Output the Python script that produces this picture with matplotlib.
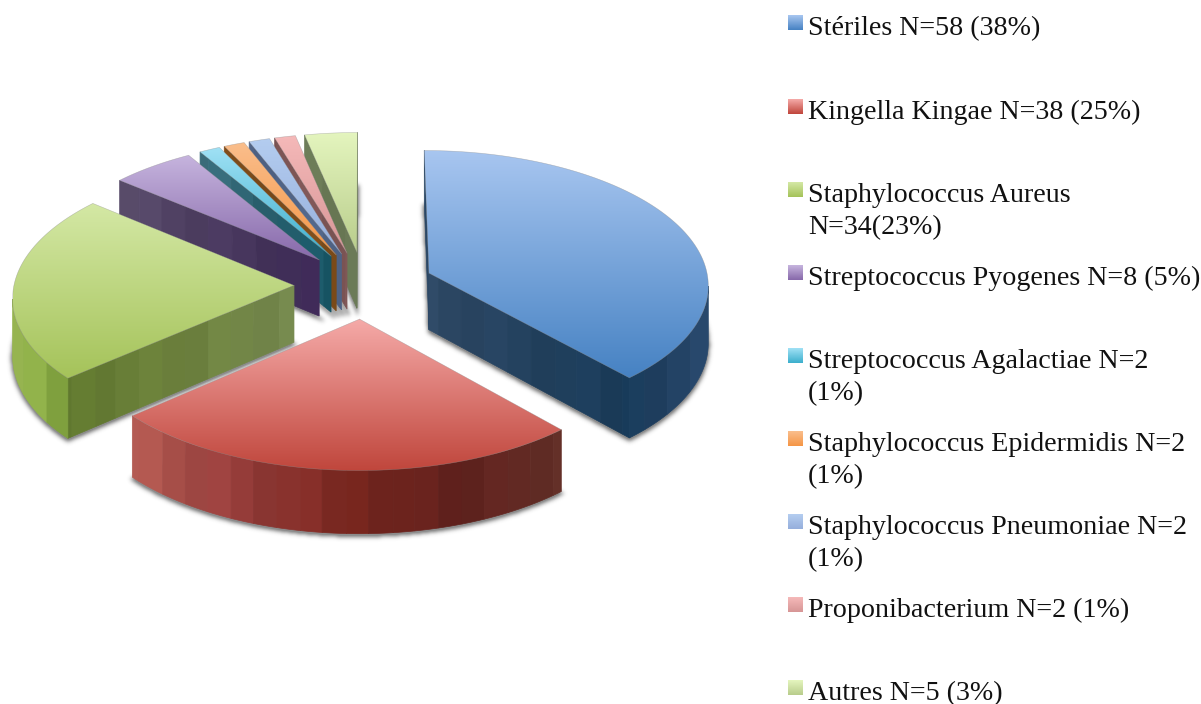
import numpy as np
import matplotlib
matplotlib.use('Agg')
import matplotlib.pyplot as plt
from matplotlib.path import Path
from matplotlib.patches import Polygon

labels = [
    'Stériles N=58 (38%)',
    'Kingella Kingae N=38 (25%)',
    'Staphylococcus Aureus\nN=34(23%)',
    'Streptococcus Pyogenes N=8 (5%)',
    'Streptococcus Agalactiae N=2\n(1%)',
    'Staphylococcus Epidermidis N=2\n(1%)',
    'Staphylococcus Pneumoniae N=2\n(1%)',
    'Proponibacterium N=2 (1%)',
    'Autres N=5 (3%)',
]
counts = [58, 38, 34, 8, 2, 2, 2, 2, 5]

# top surface gradient, light end then dark end
top_light = ['#a8c6f0', '#f5aaa8', '#d4e8a5', '#c6b4de', '#a0e1f5', '#fabe8c', '#b4cdf0', '#f5b9b9', '#e4f5be']
top_dark = ['#4682c3', '#c0463c', '#a5c35a', '#8769aa', '#3cafcd', '#f59646', '#96afdc', '#d79696', '#b9cd8c']

# side walls, colours run from left to right on screen
wall_colors = [
    ['#2e4864', '#183a58'],
    ['#b25a52', '#783026'],
    ['#627a30', '#6c803c', '#788c50'],
    ['#584b69', '#3c2855'],
    ['#3c6e7d', '#165564'],
    ['#7d4b19', '#7d4b19'],
    ['#506487', '#506487'],
    ['#7d5555', '#7d5555'],
    ['#697855', '#697855'],
]
arc_colors = [
    ['#1a3c5c', '#284669'],
    ['#b25a52', '#963c3a', '#78261e', '#5f201c', '#643028'],
    ['#96b450', '#7da03c'],
    ['#584b69', '#3c2855'],
    ['#3c6e7d', '#165564'],
    ['#7d4b19', '#7d4b19'],
    ['#506487', '#506487'],
    ['#7d5555', '#7d5555'],
    ['#697855', '#697855'],
]
band_tint = [0.0, 0.04, -0.02, 0.02, -0.03, 0.01, 0.04, -0.01, -0.03, 0.03, 0.0, -0.04]

cx, cy = 364, 285
radius = 280
squash = 134
perspective = 0.078
explode = 0.25
depth = 57
band_w = 23

W, H = 1201, 704


def project(x, y):
    s = 1 / (1 + perspective * y)
    return cx + radius * x * s, cy - squash * y * s, depth * s


def hex_rgb(c):
    return np.array(matplotlib.colors.to_rgb(c))


def band_color(stops, band, xmin, xmax):
    t = np.clip(((band + 0.5) * band_w - xmin) / max(xmax - xmin, 1), 0, 1)
    rgb = np.array([hex_rgb(c) for c in stops])
    pos = np.linspace(0, 1, len(stops))
    col = np.array([np.interp(t, pos, rgb[:, k]) for k in range(3)])
    return np.clip(col * (1 + band_tint[band % len(band_tint)]), 0, 1)


z_count = [10]


def z_next():
    z_count[0] += 0.01
    return z_count[0]


def draw_wall(ax, pts, stops):
    # pts is a run of (x, y_top, wall_height) along the wall, split into flat vertical bands
    xs = [p[0] for p in pts]
    xmin, xmax = min(xs), max(xs)
    bands = [int(x // band_w) for x in xs]
    start = 0
    for j in range(1, len(pts) + 1):
        if j == len(pts) or bands[j] != bands[start]:
            run = pts[start:min(j + 1, len(pts))]
            c = band_color(stops, bands[start], xmin, xmax)
            poly = [(p[0], p[1]) for p in run] + [(p[0], p[1] + p[2]) for p in run[::-1]]
            ax.add_patch(Polygon(poly, closed=True, facecolor=c, edgecolor=c, lw=0.5, zorder=z_next()))
            start = j


fig = plt.figure(figsize=(W / 100, H / 100), dpi=100)
ax = fig.add_axes([0, 0, 1, 1])

fracs = np.array(counts) / sum(counts)
edges = np.concatenate([[0], np.cumsum(fracs)]) * 2 * np.pi
mids = (edges[:-1] + edges[1:]) / 2

# wedge geometry for every slice
slices = []
for i in range(len(counts)):
    ox, oy = explode * np.sin(mids[i]), explode * np.cos(mids[i])
    ang = np.linspace(edges[i], edges[i + 1], max(int(np.degrees(edges[i + 1] - edges[i])) * 2, 6))
    rim = [project(ox + np.sin(a), oy + np.cos(a)) for a in ang]
    apex = project(ox, oy)
    slices.append(dict(i=i, ox=ox, oy=oy, ang=ang, rim=rim, apex=apex))

# soft shadow taken from the floor of every slice
yy, xx = np.mgrid[0:H, 0:W]
grid = np.column_stack([xx.ravel() + 0.5, yy.ravel() + 0.5])
mask = np.zeros((H, W))
for sl in slices:
    floor = [(sl['apex'][0], sl['apex'][1] + sl['apex'][2])]
    floor += [(p[0], p[1] + p[2]) for p in sl['rim']]
    mask = np.maximum(mask, Path(floor).contains_points(grid, radius=2.5).reshape(H, W).astype(float))
kernel = np.exp(-0.5 * (np.arange(-7, 8) / 2.2) ** 2)
kernel /= kernel.sum()
blur = np.apply_along_axis(lambda r: np.convolve(r, kernel, mode='same'), 0, mask)
blur = np.apply_along_axis(lambda r: np.convolve(r, kernel, mode='same'), 1, blur)
blur = np.roll(blur, 2, axis=0)
shadow = np.zeros((H, W, 4))
shadow[..., :3] = 0.25
shadow[..., 3] = np.clip(blur * 1.3, 0, 1) * 0.6
ax.imshow(shadow, extent=(0, W, H, 0), origin='upper', aspect='auto', zorder=1)

# far slices first so the near ones paint over them
for sl in sorted(slices, key=lambda s: -np.cos(mids[s['i']])):
    i = sl['i']
    apex, rim = sl['apex'], sl['rim']

    # radial walls, only the ones turned towards the viewer
    for a, outer, towards in ((edges[i], rim[0], -1), (edges[i + 1], rim[-1], 1)):
        if (outer[0] - apex[0]) * towards > 0:
            run = [project(sl['ox'] + t * np.sin(a), sl['oy'] + t * np.cos(a)) for t in np.linspace(0, 1, 60)]
            run.sort(key=lambda p: p[0])
            draw_wall(ax, run, wall_colors[i])

    # outer wall where the rim runs right to left
    front = [p for p, q in zip(rim[:-1], rim[1:]) if q[0] < p[0]]
    if rim[-1][0] < rim[-2][0]:
        front.append(rim[-1])
    if len(front) > 1:
        front.sort(key=lambda p: p[0])
        draw_wall(ax, front, arc_colors[i])

    outline = [apex[:2]] + [p[:2] for p in rim]
    xs, ys = zip(*outline)
    grad = np.linspace(0, 1, 256)[:, None, None] * (hex_rgb(top_dark[i]) - hex_rgb(top_light[i])) + hex_rgb(top_light[i])
    z = z_next()
    im = ax.imshow(grad, extent=(min(xs), max(xs), max(ys), min(ys)), origin='upper',
                   aspect='auto', interpolation='bilinear', zorder=z)
    clip = Polygon(outline, closed=True, transform=ax.transData, facecolor='none', edgecolor='none')
    ax.add_patch(clip)
    im.set_clip_path(clip)
    ax.plot(list(xs) + [xs[0]], list(ys) + [ys[0]], color='#8a8a8a', lw=0.4, alpha=0.5, zorder=z + 0.001)

# legend column
first_base = [33, 117, 200, 283, 366, 449, 532, 615, 698]
for i, label in enumerate(labels):
    base = first_base[i]
    grad = np.linspace(0, 1, 32)[:, None, None] * (hex_rgb(top_dark[i]) - hex_rgb(top_light[i])) + hex_rgb(top_light[i])
    ax.imshow(grad, extent=(788, 803, base - 3, base - 18), origin='upper', aspect='auto', zorder=20)
    for k, line in enumerate(label.split('\n')):
        ax.text(808, base + 2 + k * 32, line, fontsize=20.2, family='Liberation Serif', color='#111111',
                va='baseline', ha='left', zorder=21)

ax.set_xlim(0, W)
ax.set_ylim(H, 0)
ax.axis('off')

fig.savefig('out.png', dpi=100, facecolor='white')
